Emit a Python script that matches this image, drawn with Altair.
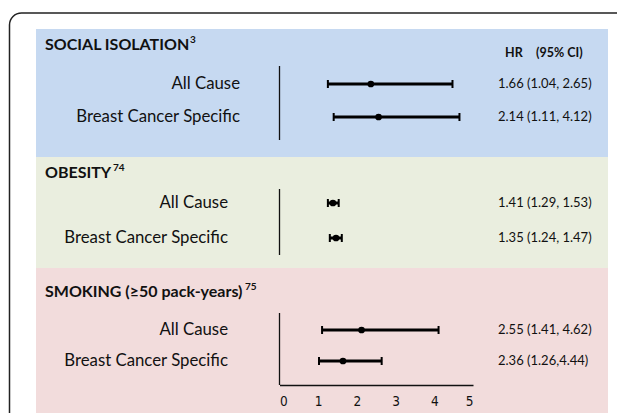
import altair as alt
import pandas as pd

# ---- data ----
groups = ["SOCIAL ISOLATION", "OBESITY", "SMOKING (≥50 pack-years)"]
refs = ["3", "74", "75"]
outcomes = ["All Cause", "Breast Cancer Specific"]
est = [[2.36, 2.56], [1.38, 1.46], [2.12, 1.64]]
low = [[1.25, 1.40], [1.25, 1.30], [1.10, 1.02]]
high = [[4.47, 4.65], [1.53, 1.61], [4.11, 2.64]]
hr_labels = [
    ["1.66 (1.04, 2.65)", "2.14 (1.11, 4.12)"],
    ["1.41 (1.29, 1.53)", "1.35 (1.24, 1.47)"],
    ["2.55 (1.41, 4.62)", "2.36 (1.26,4.44)"],
]
ticks = [0, 1, 2, 3, 4, 5]
panel_colors = ["#c6d9f1", "#eaeedf", "#f2dcdc"]

# ---- layout (pixels, relative to the plot area) ----
W, H = 572, 356
panel_top = [0, 128, 239]
panel_bottom = [128, 239, 401]
row_px = [(55, 88), (174, 209), (301, 332)]
vline = [(37, 111), (160, 226), (284, 356)]
header_y = [16, 144, 263]
sup_x = [154, 77, 209]
label_x = [204, 192, 192]
hr_x = 462
FONT = "Lato"
INK = "#111111"

xs = alt.Scale(domain=[0, 5], range=[243.5, 437], nice=False, zero=False)
xaxis = alt.Axis(values=ticks, ticks=False, domain=True, domainColor=INK,
                 domainWidth=1.5, grid=False, labelPadding=9, labelFontSize=13.5,
                 labelFont="Liberation Sans Narrow, DejaVu Sans Condensed, sans-serif",
                 labelColor=INK, format="d", title=None, zindex=1)

layers = []

# outer rounded frame
frame = alt.Chart(pd.DataFrame({"k": [0]})).mark_rect(
    fill="white", fillOpacity=0, stroke="#222222", strokeWidth=1.5, cornerRadius=12
).encode(x=alt.value(-26.5), x2=alt.value(700), y=alt.value(-16), y2=alt.value(600))

for i in range(3):
    df = pd.DataFrame({
        "outcome": outcomes,
        "est": est[i],
        "lo": low[i],
        "hi": high[i],
        "hr": hr_labels[i],
    })
    head = pd.DataFrame({"g": [groups[i]], "ref": [refs[i]]})
    ys = alt.Scale(type="point", domain=outcomes, range=list(row_px[i]), padding=0)
    Y = alt.Y("outcome:N", scale=ys, axis=None)

    layers.append(alt.Chart(head).mark_rect(fill=panel_colors[i]).encode(
        x=alt.value(0), x2=alt.value(W),
        y=alt.value(panel_top[i]), y2=alt.value(panel_bottom[i])))
    layers.append(alt.Chart(head).mark_text(
        align="left", baseline="middle", font=FONT, fontSize=16, fontWeight="bold", color=INK
    ).encode(text="g:N", x=alt.value(9), y=alt.value(header_y[i])))
    layers.append(alt.Chart(head).mark_text(
        align="left", baseline="middle", font=FONT, fontSize=10, fontWeight="bold", color=INK
    ).encode(text="ref:N", x=alt.value(sup_x[i]), y=alt.value(header_y[i] - 5)))
    layers.append(alt.Chart(head).mark_rule(color=INK, strokeWidth=1.3).encode(
        x=alt.XDatum(0, type="quantitative", scale=xs, axis=xaxis),
        y=alt.value(vline[i][0]), y2=alt.value(vline[i][1])))
    layers.append(alt.Chart(df).mark_rule(color="black", strokeWidth=3).encode(
        x=alt.X("lo:Q", scale=xs, axis=xaxis), x2="hi:Q", y=Y))
    layers.append(alt.Chart(df).transform_fold(["lo", "hi"], as_=["end", "v"]).mark_tick(
        color="black", thickness=2, size=8, opacity=1
    ).encode(x=alt.X("v:Q", scale=xs, axis=xaxis), y=Y))
    layers.append(alt.Chart(df).mark_circle(color="black", size=45, opacity=1).encode(
        x=alt.X("est:Q", scale=xs, axis=xaxis), y=Y))
    layers.append(alt.Chart(df).mark_text(
        align="right", baseline="middle", font=FONT, fontSize=16.8, color=INK
    ).encode(text="outcome:N", x=alt.value(label_x[i]), y=Y))
    layers.append(alt.Chart(df).mark_text(
        align="left", baseline="middle", font=FONT, fontSize=13, color=INK
    ).encode(text="hr:N", x=alt.value(hr_x), y=Y))

layers.append(alt.Chart(pd.DataFrame({"t": ["HR"]})).mark_text(
    align="left", baseline="middle", font=FONT, fontSize=12.5, fontWeight="bold", color=INK
).encode(text="t:N", x=alt.value(469), y=alt.value(24)))
layers.append(alt.Chart(pd.DataFrame({"t": ["(95% CI)"]})).mark_text(
    align="left", baseline="middle", font=FONT, fontSize=12.5, fontWeight="bold", color=INK
).encode(text="t:N", x=alt.value(500), y=alt.value(24)))

layers.append(frame)

chart = alt.layer(*layers).resolve_scale(y="independent").properties(
    width=W, height=H,
    autosize=alt.AutoSizeParams(type="none"),
    padding={"left": 28, "top": 21, "right": 9, "bottom": 28},
    background="white",
).configure_view(stroke=None)

chart.save("out.html", embed_options={"renderer": "svg", "actions": False})
